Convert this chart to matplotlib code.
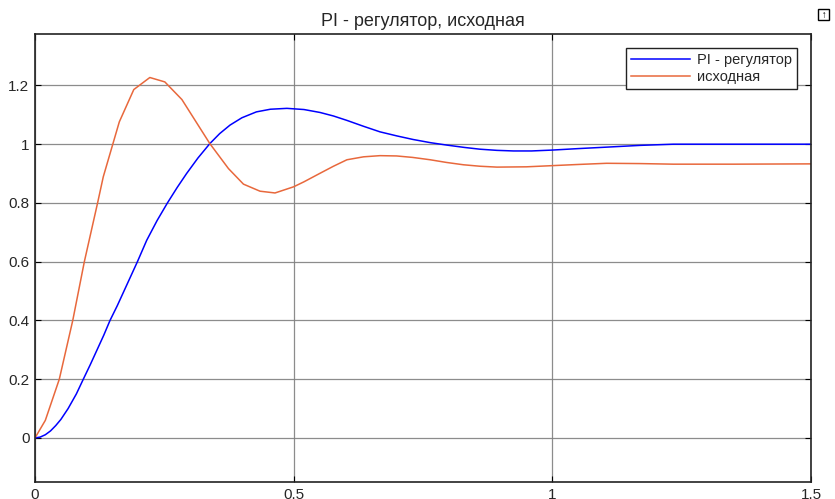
import matplotlib
matplotlib.use('Agg')
import matplotlib.pyplot as plt

plt.rcParams['font.family'] = ['Liberation Sans', 'DejaVu Sans']

# PI - регулятор
t_pi = [0, 0.01, 0.02, 0.03, 0.04, 0.05, 0.064, 0.08, 0.0934, 0.107, 0.12, 0.133,
        0.145, 0.159, 0.172, 0.185, 0.198, 0.216, 0.236, 0.256, 0.275, 0.293,
        0.315, 0.338, 0.357, 0.377, 0.40, 0.428, 0.455, 0.487, 0.52, 0.551,
        0.577, 0.603, 0.635, 0.667, 0.70, 0.731, 0.765, 0.796, 0.83, 0.860,
        0.893, 0.925, 0.96, 1.0, 1.05, 1.105, 1.17, 1.234, 1.35, 1.5]
y_pi = [0, 0.003, 0.011, 0.024, 0.042, 0.063, 0.1, 0.15, 0.2, 0.25, 0.3, 0.35,
        0.4, 0.45, 0.5, 0.55, 0.6, 0.673, 0.74, 0.8, 0.853, 0.9,
        0.953, 1.002, 1.036, 1.065, 1.09, 1.110, 1.119, 1.122, 1.118, 1.108,
        1.096, 1.081, 1.061, 1.042, 1.028, 1.016, 1.005, 0.997, 0.989, 0.983,
        0.979, 0.977, 0.977, 0.980, 0.985, 0.990, 0.996, 1.0, 1.0, 1.0]

# исходная
t_src = [0, 0.02, 0.047, 0.073, 0.0954, 0.121, 0.132, 0.163, 0.191, 0.222, 0.251,
         0.284, 0.338, 0.374, 0.403, 0.435, 0.464, 0.5, 0.52, 0.551, 0.577,
         0.603, 0.635, 0.667, 0.699, 0.73, 0.764, 0.795, 0.828, 0.86, 0.893,
         0.95, 1.0, 1.05, 1.105, 1.17, 1.234, 1.35, 1.5]
y_src = [0, 0.06, 0.2, 0.4, 0.6, 0.8, 0.889, 1.076, 1.186, 1.227, 1.212,
         1.152, 1.002, 0.917, 0.864, 0.840, 0.834, 0.855, 0.872, 0.901, 0.925,
         0.947, 0.957, 0.961, 0.960, 0.955, 0.947, 0.938, 0.930, 0.925, 0.922,
         0.923, 0.927, 0.931, 0.935, 0.934, 0.932, 0.932, 0.933]

x_ticks = [0, 0.5, 1, 1.5]
x_labels = ['0', '0.5', '1', '1.5']
y_ticks = [0, 0.2, 0.4, 0.6, 0.8, 1, 1.2]
y_labels = ['0', '0.2', '0.4', '0.6', '0.8', '1', '1.2']

fig = plt.figure(figsize=(8.35, 4.99), dpi=100)
ax = fig.add_axes([0.0419, 0.034, 0.9293, 0.8978])

ax.plot(t_pi, y_pi, color='#0000ff', linewidth=1.1, label='PI - регулятор')
ax.plot(t_src, y_src, color='#e8683c', linewidth=1.1, label='исходная')

ax.set_xlim(0, 1.5)
ax.set_ylim(-0.15, 1.375)
ax.set_xticks(x_ticks)
ax.set_xticklabels(x_labels)
ax.set_yticks(y_ticks)
ax.set_yticklabels(y_labels)
ax.tick_params(direction='in', top=True, right=True, length=4, labelsize=11,
               labelcolor='#262626', pad=4)
ax.grid(True, color='#808080', linewidth=0.9, alpha=0.9)
for s in ax.spines.values():
    s.set_linewidth(1.2)
    s.set_color('#222222')

ax.set_title('PI - регулятор, исходная', fontsize=13, color='#262626', pad=6)

leg = ax.legend(loc='upper right', fontsize=10.5, handlelength=4.0, fancybox=False,
                framealpha=1, edgecolor='#222222', borderpad=0.35, labelspacing=0.2,
                handletextpad=0.5, borderaxespad=0.95)
leg.get_frame().set_linewidth(1.0)
for txt in leg.get_texts():
    txt.set_color('#262626')

# small window-button icon in the top right corner
fig.text(0.9865, 0.970, ' \u2191 ', fontsize=7, fontweight='bold', ha='center', va='center',
         bbox=dict(boxstyle='square,pad=0.05', fc='white', ec='black', lw=1.0))

fig.savefig('out.png', dpi=100)
